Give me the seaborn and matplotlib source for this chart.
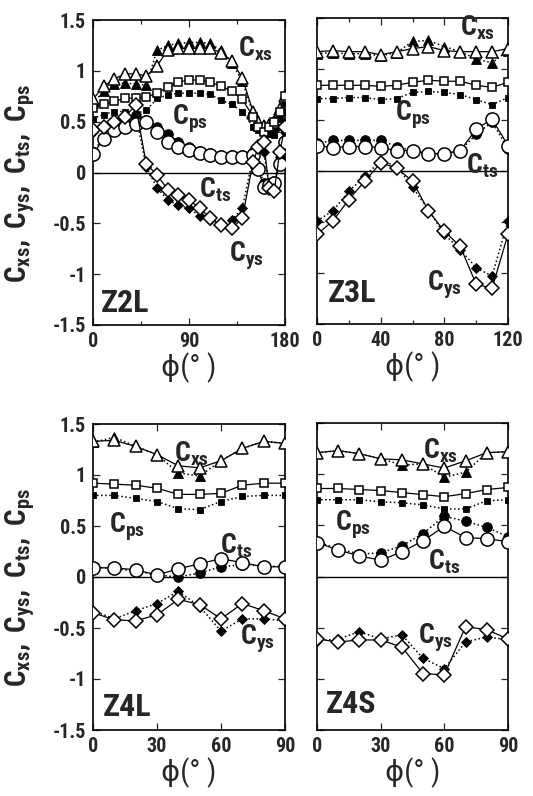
import numpy as np
import pandas as pd
import matplotlib
matplotlib.use("Agg")
import matplotlib.pyplot as plt
import seaborn as sns
from matplotlib import font_manager as fm
from matplotlib.ticker import FuncFormatter, FixedLocator

sns.set_style("ticks")
names = {f.name for f in fm.fontManager.ttflist}
BASE = "Roboto Condensed" if "Roboto Condensed" in names else "Liberation Sans"
plt.rcParams["font.family"] = [BASE, "DejaVu Sans"]
plt.rcParams["font.weight"] = "bold"
plt.rcParams["mathtext.fontset"] = "custom"
plt.rcParams["mathtext.rm"] = BASE + ":bold"
plt.rcParams["mathtext.it"] = BASE + ":bold"
plt.rcParams["mathtext.bf"] = BASE + ":bold"
plt.rcParams["mathtext.default"] = "rm"
plt.rcParams["axes.unicode_minus"] = False

# ---------------- data ----------------
# Z2L
phi_z2l = [0, 10, 20, 30, 40, 50, 60, 70, 80, 90, 100, 110, 120, 130, 140, 150, 155, 160, 165, 170, 175, 180]
z2l_cxs_open = [0.72, 0.85, 0.92, 0.97, 0.97, 0.95, 1.05, 1.20, 1.22, 1.22, 1.22, 1.22, 1.18, 1.10, 0.93, 0.60, 0.50, 0.46, 0.47, 0.50, 0.62, 0.75]
z2l_cxs_fill = [0.68, 0.80, 0.87, 0.88, 0.87, 0.86, 1.20, 1.25, 1.27, 1.28, 1.28, 1.27, 1.20, 1.08, 0.90, 0.58, 0.46, 0.42, 0.42, 0.45, 0.55, 0.70]
z2l_cps_open = [0.63, 0.67, 0.70, 0.73, 0.73, 0.74, 0.78, 0.84, 0.89, 0.91, 0.91, 0.89, 0.85, 0.80, 0.72, 0.55, 0.45, 0.40, 0.45, 0.50, 0.60, 0.75]
z2l_cps_fill = [0.53, 0.57, 0.60, 0.60, 0.58, 0.61, 0.73, 0.76, 0.78, 0.78, 0.78, 0.77, 0.71, 0.67, 0.60, 0.45, 0.42, 0.40, 0.38, 0.37, 0.45, 0.60]
z2l_cts_open = [0.18, 0.33, 0.42, 0.45, 0.48, 0.50, 0.40, 0.30, 0.25, 0.22, 0.19, 0.17, 0.15, 0.15, 0.15, 0.17, 0.03, -0.14, -0.12, -0.10, 0.08, 0.30]
z2l_cts_fill = [0.20, 0.35, 0.44, 0.48, 0.55, 0.52, 0.45, 0.38, 0.30, 0.25, 0.21, 0.19, 0.17, 0.17, 0.17, 0.20, 0.05, -0.10, -0.10, -0.08, 0.10, 0.30]
z2l_cys_open = [0.42, 0.45, 0.50, 0.55, 0.66, 0.08, -0.02, -0.17, -0.22, -0.27, -0.35, -0.45, -0.52, -0.55, -0.45, 0.10, 0.25, 0.30, -0.15, -0.18, 0.20, 0.45]
z2l_cys_fill = [0.40, 0.45, 0.50, 0.53, 0.58, 0.05, -0.15, -0.27, -0.32, -0.35, -0.43, -0.47, -0.50, -0.47, -0.35, 0.15, 0.25, 0.20, -0.10, -0.12, 0.15, 0.40]

# Z3L
phi_z3l = [0, 10, 20, 30, 40, 50, 60, 70, 80, 90, 100, 110, 120]
z3l_cxs_open = [1.17, 1.18, 1.17, 1.17, 1.14, 1.17, 1.20, 1.22, 1.18, 1.17, 1.17, 1.17, 1.20]
z3l_cxs_fill = [1.15, 1.16, 1.15, 1.15, 1.13, 1.16, 1.27, 1.28, 1.22, 1.17, 1.10, 1.06, 1.18]
z3l_cps_open = [0.84, 0.84, 0.84, 0.84, 0.83, 0.84, 0.87, 0.89, 0.88, 0.88, 0.84, 0.82, 0.87]
z3l_cps_fill = [0.71, 0.71, 0.72, 0.72, 0.70, 0.71, 0.77, 0.78, 0.77, 0.75, 0.70, 0.65, 0.72]
z3l_cts_open = [0.25, 0.23, 0.24, 0.24, 0.23, 0.20, 0.20, 0.17, 0.17, 0.20, 0.41, 0.51, 0.25]
z3l_cts_fill = [0.27, 0.30, 0.30, 0.30, 0.30, 0.24, 0.20, 0.17, 0.17, 0.20, 0.36, 0.48, 0.22]
z3l_cys_open = [-0.62, -0.49, -0.28, -0.10, 0.08, 0.03, -0.10, -0.39, -0.59, -0.74, -1.11, -1.15, -0.62]
z3l_cys_fill = [-0.49, -0.39, -0.20, -0.05, 0.10, 0.05, -0.16, -0.38, -0.62, -0.77, -0.95, -1.03, -0.49]

# Z4L
phi_z4l = [0, 10, 20, 30, 40, 50, 60, 70, 80, 90]
z4l_cxs_open = [1.33, 1.34, 1.28, 1.20, 1.09, 1.07, 1.14, 1.26, 1.33, 1.31]
z4l_cxs_fill = [1.32, 1.37, 1.28, 1.20, 1.02, 0.99, 1.14, 1.26, 1.33, 1.31]
z4l_cps_open = [0.92, 0.91, 0.90, 0.87, 0.81, 0.81, 0.82, 0.90, 0.92, 0.92]
z4l_cps_fill = [0.80, 0.80, 0.77, 0.74, 0.67, 0.66, 0.74, 0.79, 0.80, 0.80]
z4l_cts_open = [0.09, 0.09, 0.07, 0.02, 0.08, 0.13, 0.18, 0.14, 0.10, 0.10]
z4l_cts_fill = [0.10, 0.08, 0.06, 0.02, 0.00, 0.04, 0.10, 0.12, 0.11, 0.10]
z4l_cys_open = [-0.35, -0.42, -0.43, -0.37, -0.22, -0.27, -0.41, -0.26, -0.33, -0.41]
z4l_cys_fill = [-0.33, -0.41, -0.33, -0.26, -0.14, -0.29, -0.53, -0.41, -0.41, -0.43]

# Z4S
phi_z4s = [0, 10, 20, 30, 40, 50, 60, 70, 80, 90]
z4s_cxs_open = [1.21, 1.23, 1.20, 1.15, 1.14, 1.10, 1.06, 1.13, 1.21, 1.22]
z4s_cxs_fill = [1.21, 1.23, 1.20, 1.15, 1.09, 1.10, 0.97, 1.02, 1.21, 1.22]
z4s_cps_open = [0.86, 0.86, 0.85, 0.84, 0.82, 0.80, 0.78, 0.81, 0.85, 0.87]
z4s_cps_fill = [0.75, 0.75, 0.75, 0.73, 0.72, 0.70, 0.66, 0.66, 0.74, 0.75]
z4s_cts_open = [0.33, 0.26, 0.20, 0.16, 0.24, 0.35, 0.49, 0.38, 0.37, 0.34]
z4s_cts_fill = [0.34, 0.27, 0.22, 0.23, 0.30, 0.42, 0.59, 0.54, 0.48, 0.39]
z4s_cys_open = [-0.61, -0.64, -0.62, -0.62, -0.69, -0.95, -0.96, -0.49, -0.52, -0.61]
z4s_cys_fill = [-0.63, -0.61, -0.54, -0.61, -0.57, -0.80, -0.90, -0.64, -0.59, -0.62]

panel_names = ["Z2L", "Z3L", "Z4L", "Z4S"]
x_ticks = [[0, 90, 180], [0, 40, 80, 120], [0, 30, 60, 90], [0, 30, 60, 90]]
x_minor = [[45, 135], [20, 60, 100], [], []]
y_ticks = [-1.5, -1, -0.5, 0, 0.5, 1, 1.5]

# ---------------- figure ----------------
fig = plt.figure(figsize=(5.33, 7.96), dpi=100)
W, H = 533, 796
rects = [(93, 20, 285, 325), (317, 18, 508, 324), (93, 424, 285, 730), (317, 423, 508, 730)]
axes = [fig.add_axes([l / W, 1 - b / H, (r - l) / W, (b - t) / H]) for (l, t, r, b) in rects]

panels = [
    (phi_z2l, [z2l_cxs_open, z2l_cxs_fill, z2l_cps_open, z2l_cps_fill, z2l_cts_open, z2l_cts_fill, z2l_cys_open, z2l_cys_fill]),
    (phi_z3l, [z3l_cxs_open, z3l_cxs_fill, z3l_cps_open, z3l_cps_fill, z3l_cts_open, z3l_cts_fill, z3l_cys_open, z3l_cys_fill]),
    (phi_z4l, [z4l_cxs_open, z4l_cxs_fill, z4l_cps_open, z4l_cps_fill, z4l_cts_open, z4l_cts_fill, z4l_cys_open, z4l_cys_fill]),
    (phi_z4s, [z4s_cxs_open, z4s_cxs_fill, z4s_cps_open, z4s_cps_fill, z4s_cts_open, z4s_cts_fill, z4s_cys_open, z4s_cys_fill]),
]

# marker, open size, filled size
styles = [("^", 8.5, 6.5), ("s", 6.0, 4.5), ("o", 9.5, 7.0), ("D", 7.0, 5.5)]

# label positions (data coords) per panel: Cxs, Cps, Cts, Cys, panel name
label_pos = [
    [(152, 1.22), (91, 0.53), (114, -0.17), (144, -0.82), (30, -1.28)],
    [(101, 1.40), (60, 0.55), (104, 0.05), (80, -1.12), (22, -1.20)],
    [(46, 1.21), (16, 0.49), (67, 0.31), (77, -0.61), (16, -1.27)],
    [(58, 1.23), (17, 0.50), (60, 0.14), (56, -0.60), (16, -1.25)],
]
curve_labels = [r"$C_{xs}$", r"$C_{ps}$", r"$C_{ts}$", r"$C_{ys}$"]

for i, ax in enumerate(axes):
    phi, series = panels[i]
    # filled (dotted) first, then open (solid) on top
    for k, (mk, so, sf) in enumerate(styles):
        yo, yf = series[2 * k], series[2 * k + 1]
        df_f = pd.DataFrame({"phi": phi, "c": yf})
        sns.lineplot(data=df_f, x="phi", y="c", ax=ax, color="black", linestyle=":",
                     linewidth=1.1, marker=mk, markersize=sf, markerfacecolor="black",
                     markeredgecolor="black", markeredgewidth=0.6, zorder=3, legend=False)
        df_o = pd.DataFrame({"phi": phi, "c": yo})
        sns.lineplot(data=df_o, x="phi", y="c", ax=ax, color="black", linestyle="-",
                     linewidth=0.9, marker=mk, markersize=so, markerfacecolor="white",
                     markeredgecolor="black", markeredgewidth=1.1, zorder=4, legend=False)
    ax.axhline(0, color="black", linewidth=1.0, zorder=2)
    ax.set_xlim(x_ticks[i][0], x_ticks[i][-1])
    ax.set_ylim(-1.5, 1.5)
    ax.set_xticks(x_ticks[i])
    ax.xaxis.set_minor_locator(FixedLocator(x_minor[i]))
    ax.set_yticks(y_ticks)
    ax.yaxis.set_major_formatter(FuncFormatter(lambda v, p: f"{v:g}"))
    ax.tick_params(axis="both", which="both", direction="in", top=True, right=True,
                   length=5, width=0.9, labelsize=14.5, pad=5)
    ax.tick_params(axis="both", which="minor", length=3)
    if i in (1, 3):
        ax.tick_params(axis="y", labelleft=False)
    for sp in ax.spines.values():
        sp.set_linewidth(1.2)
        sp.set_color("black")
    ax.set_xlabel("ϕ(° )", fontsize=21, labelpad=1, family=[BASE, "DejaVu Sans"])
    ax.set_ylabel("")
    lp = label_pos[i]
    for k in range(4):
        ax.text(lp[k][0], lp[k][1], curve_labels[k], fontsize=20, ha="center", va="center", zorder=6)
    ax.text(lp[4][0], lp[4][1], panel_names[i], fontsize=23, ha="center", va="center",
            fontweight="bold", zorder=6)

ylab = r"$C_{xs},\ C_{ys},\ C_{ts},\ C_{ps}$"
for yc in (183, 587):
    fig.text(20 / W, 1 - yc / H, ylab, rotation=90, ha="center", va="center", fontsize=21)

fig.savefig("out.png", dpi=100)
